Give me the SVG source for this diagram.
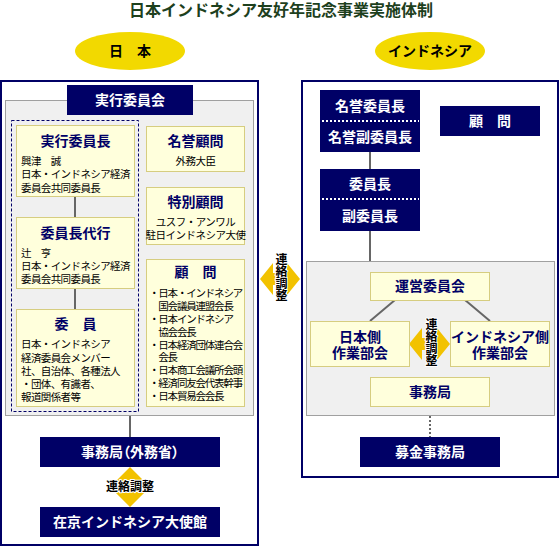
<svg xmlns="http://www.w3.org/2000/svg" width="560" height="548" viewBox="0 0 560 548">
<style>
text{font-family:"Liberation Sans","Noto Sans CJK JP",sans-serif;}
.ttl{font-size:16px;font-weight:bold;fill:#1d401d;text-anchor:middle;}
.ell{fill:#f2d900;}
.elt{font-size:14px;font-weight:bold;fill:#000;text-anchor:middle;}
.frame{fill:#fff;stroke:#000066;stroke-width:2;}
.gray{fill:#f0f0f0;stroke:#a0a0a0;stroke-width:1;}
.navy{fill:#000066;}
.wt{font-size:14px;font-weight:bold;fill:#fff;text-anchor:middle;}
.yb{fill:#ffffdc;stroke:#d6cd80;stroke-width:1;}
.yt{font-size:14px;font-weight:bold;fill:#000066;text-anchor:middle;}
.bd{font-size:10.5px;fill:#000;letter-spacing:-0.6px;}
.bdc{font-size:10.5px;fill:#000;text-anchor:middle;letter-spacing:-0.5px;}
.bl{font-size:10.5px;fill:#000;letter-spacing:-1.2px;}
.arw{fill:#f2c200;}
.at{font-size:12px;font-weight:bold;fill:#000;text-anchor:middle;stroke:#fff;stroke-width:2;paint-order:stroke;stroke-linejoin:round;}
.vt{writing-mode:vertical-rl;}
.ln{stroke:#666;stroke-width:2;fill:none;}
.dot{stroke:#fff;stroke-width:2;stroke-dasharray:2 2;}
</style>

<text class="ttl" x="281" y="16">日本インドネシア友好年記念事業実施体制</text>

<g id="label-japan">
<ellipse class="ell" cx="130" cy="51" rx="55" ry="19"/>
<text class="elt" x="130" y="56">日　本</text>
</g>
<g id="label-indonesia">
<ellipse class="ell" cx="430" cy="51" rx="55" ry="19"/>
<text class="elt" x="430" y="56">インドネシア</text>
</g>

<g id="frame-japan">
<rect class="frame" x="1" y="81" width="257" height="464"/>
<rect class="gray" x="5.5" y="100.5" width="248" height="315"/>
<rect x="11.5" y="120.5" width="127" height="291" fill="none" stroke="#000066" stroke-width="1" stroke-dasharray="3 2"/>
</g>
<g id="frame-indonesia">
<rect class="frame" x="302" y="81" width="256" height="396"/>
<rect class="gray" x="306.5" y="261.5" width="248" height="154"/>
</g>

<g id="connectors">
<line class="ln" x1="75" y1="197" x2="75" y2="217"/>
<line class="ln" x1="75" y1="289" x2="75" y2="309"/>
<line class="ln" x1="130" y1="416" x2="130" y2="437"/>
<line class="ln" x1="370" y1="152" x2="370" y2="169"/>
<line class="ln" x1="370" y1="231" x2="370" y2="261"/>
<line class="ln" stroke-width="1.5" x1="395" y1="300" x2="370" y2="321"/>
<line class="ln" stroke-width="1.5" x1="465" y1="300" x2="490" y2="321"/>
<line class="ln" stroke-dasharray="2 2" x1="430" y1="416" x2="430" y2="437"/>
<polygon class="arw" points="260,279 273,263 273,273 287,273 287,263 300,279 287,295 287,285 273,285 273,295"/>
<text class="at vt" x="280" y="277">連絡調整</text>
<polygon class="arw" points="409,344 422,328 422,338 437,338 437,328 450,344 437,360 437,350 422,350 422,360"/>
<text class="at vt" x="430" y="342">連絡調整</text>
<polygon class="arw" points="130,467 145,482 135,482 135,492 145,492 130,507 115,492 125,492 125,482 115,482"/>
<text class="at" x="130" y="491">連絡調整</text>
</g>

<g id="jikko-iinkai">
<rect class="navy" x="67" y="85" width="126" height="30"/>
<text class="wt" x="130" y="105">実行委員会</text>
</g>

<g id="jikko-iincho">
<rect class="yb" x="16.5" y="125.5" width="118" height="71"/>
<text class="yt" x="75.5" y="146">実行委員長</text>
<text class="bd" x="21" y="165">興津　誠</text>
<text class="bd" x="21" y="178">日本・インドネシア経済</text>
<text class="bd" x="21" y="192">委員会共同委員長</text>
</g>

<g id="iincho-dairi">
<rect class="yb" x="16.5" y="217.5" width="118" height="71"/>
<text class="yt" x="75.5" y="238">委員長代行</text>
<text class="bd" x="21" y="257">辻　亨</text>
<text class="bd" x="21" y="270">日本・インドネシア経済</text>
<text class="bd" x="21" y="283">委員会共同委員長</text>
</g>

<g id="iin">
<rect class="yb" x="16.5" y="309.5" width="118" height="97"/>
<text class="yt" x="75.5" y="329">委　員</text>
<text class="bd" x="21" y="348">日本・インドネシア</text>
<text class="bd" x="21" y="362">経済委員会メンバー</text>
<text class="bd" x="21" y="375">社、自治体、各種法人</text>
<text class="bd" x="21" y="388">・団体、有識者、</text>
<text class="bd" x="21" y="401">報道関係者等</text>
</g>

<g id="meiyo-komon">
<rect class="yb" x="146.5" y="126.5" width="98" height="45"/>
<text class="yt" x="195.5" y="146">名誉顧問</text>
<text class="bdc" x="195.5" y="165">外務大臣</text>
</g>

<g id="tokubetsu-komon">
<rect class="yb" x="146.5" y="187.5" width="98" height="57"/>
<text class="yt" x="195.5" y="207">特別顧問</text>
<text class="bdc" x="195.5" y="226">ユスフ・アンワル</text>
<text class="bdc" x="195.5" y="239">駐日インドネシア大使</text>
</g>

<g id="komon-japan">
<rect class="yb" x="146.5" y="259.5" width="98" height="147"/>
<text class="yt" x="195.5" y="277">顧　問</text>
<text class="bl" x="149" y="297">・日本・インドネシア</text>
<text class="bl" x="149" y="310">　国会議員連盟会長</text>
<text class="bl" x="149" y="323">・日本インドネシア</text>
<text class="bl" x="149" y="336">　協会会長</text>
<text class="bl" x="149" y="349">・日本経済団体連合会</text>
<text class="bl" x="149" y="361">　会長</text>
<text class="bl" x="149" y="374">・日本商工会議所会頭</text>
<text class="bl" x="149" y="387">・経済同友会代表幹事</text>
<text class="bl" x="149" y="400">・日本貿易会会長</text>
</g>

<g id="jimukyoku-gaimusho">
<rect class="navy" x="40" y="437" width="180" height="30"/>
<text class="wt" x="130" y="457" style="font-feature-settings:'palt'">事務局（外務省）</text>
</g>

<g id="taishikan">
<rect class="navy" x="40" y="507" width="180" height="30"/>
<text class="wt" x="130" y="527">在京インドネシア大使館</text>
</g>

<g id="meiyo-iincho">
<rect class="navy" x="320" y="90" width="100" height="62"/>
<line class="dot" x1="322" y1="121" x2="419" y2="121"/>
<text class="wt" x="370" y="111">名誉委員長</text>
<text class="wt" x="370" y="142">名誉副委員長</text>
</g>

<g id="komon-indonesia">
<rect class="navy" x="440" y="106" width="100" height="30"/>
<text class="wt" x="490" y="126">顧　問</text>
</g>

<g id="iincho">
<rect class="navy" x="320" y="169" width="100" height="62"/>
<line class="dot" x1="322" y1="199" x2="419" y2="199"/>
<text class="wt" x="370" y="189">委員長</text>
<text class="wt" x="370" y="221">副委員長</text>
</g>

<g id="unei-iinkai">
<rect class="yb" x="370.5" y="272.5" width="119" height="28"/>
<text class="yt" x="430" y="291">運営委員会</text>
</g>

<g id="nihon-sagyo">
<rect class="yb" x="310.5" y="321.5" width="99" height="45"/>
<text class="yt" x="360" y="342">日本側</text>
<text class="yt" x="360" y="358">作業部会</text>
</g>

<g id="indonesia-sagyo">
<rect class="yb" x="450.5" y="321.5" width="99" height="45"/>
<text class="yt" x="500" y="342">インドネシア側</text>
<text class="yt" x="500" y="358">作業部会</text>
</g>

<g id="jimukyoku-indonesia">
<rect class="yb" x="370.5" y="377.5" width="119" height="29"/>
<text class="yt" x="430" y="397">事務局</text>
</g>

<g id="bokin-jimukyoku">
<rect class="navy" x="360" y="437" width="140" height="30"/>
<text class="wt" x="430" y="457">募金事務局</text>
</g>
</svg>
